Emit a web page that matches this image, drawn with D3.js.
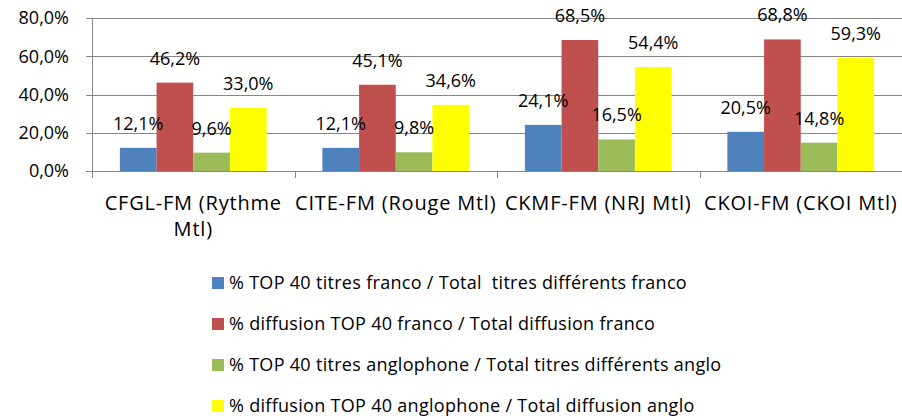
<!DOCTYPE html>
<html>
<head>
<meta charset="utf-8">
<script src="https://cdn.jsdelivr.net/npm/d3@7"></script>
<style>
  body { margin: 0; background: #fff; }
  svg text { font-family: "Open Sans", Lato, sans-serif; fill: #000; }
</style>
</head>
<body>
<svg width="902" height="419"></svg>
<script>
var stations = ["CFGL-FM (Rythme Mtl)", "CITE-FM (Rouge Mtl)", "CKMF-FM (NRJ Mtl)", "CKOI-FM (CKOI Mtl)"];
var seriesNames = [
	"% TOP 40 titres franco / Total  titres différents franco",
	"% diffusion TOP 40 franco / Total diffusion franco",
	"% TOP 40 titres anglophone / Total titres différents anglo",
	"% diffusion TOP 40 anglophone / Total diffusion anglo"
];
var titresFranco = [12.1, 12.1, 24.1, 20.5];
var diffusionFranco = [46.2, 45.1, 68.5, 68.8];
var titresAnglo = [9.6, 9.8, 16.5, 14.8];
var diffusionAnglo = [33.0, 34.6, 54.4, 59.3];
var yTicks = [0, 20, 40, 60, 80];
var colors = ["#4F81BD", "#C0504D", "#9BBB59", "#FFFF00"];

var allSeries = [titresFranco, diffusionFranco, titresAnglo, diffusionAnglo];
var fmt = function(v){ return v.toFixed(1).replace(".", ",") + "%"; };

var svg = d3.select("svg");
var plotLeft = 92, plotRight = 902, plotTop = 18, plotBottom = 171;

var x = d3.scaleBand()
	.domain(stations)
	.range([plotLeft, plotRight]);

var x1 = d3.scaleBand()
	.domain(d3.range(seriesNames.length))
	.range([0, x.bandwidth()])
	.paddingOuter(0.76);

var y = d3.scaleLinear()
	.domain([0, 80])
	.range([plotBottom, plotTop]);

// gridlines
svg.append("g")
	.selectAll("line")
	.data(yTicks)
	.join("line")
	.attr("x1", plotLeft - 6)
	.attr("x2", plotRight)
	.attr("y1", function(d){ return Math.round(y(d)) + 0.5; })
	.attr("y2", function(d){ return Math.round(y(d)) + 0.5; })
	.attr("stroke", "#868686")
	.attr("stroke-width", 1);

// y labels
svg.append("g")
	.selectAll("text")
	.data(yTicks)
	.join("text")
	.attr("x", 69)
	.attr("y", function(d){ return y(d); })
	.attr("dy", "0.36em")
	.attr("text-anchor", "end")
	.style("font-size", "18px")
	.text(function(d){ return fmt(d); });

// bars
var groups = svg.append("g")
	.selectAll("g")
	.data(stations)
	.join("g")
	.attr("transform", function(d){ return "translate(" + x(d) + ",0)"; });

groups.selectAll("rect")
	.data(function(d, i){ return allSeries.map(function(s, k){ return {k: k, v: s[i]}; }); })
	.join("rect")
	.attr("x", function(d){ return x1(d.k); })
	.attr("width", x1.bandwidth())
	.attr("y", function(d){ return y(d.v); })
	.attr("height", function(d){ return plotBottom - y(d.v); })
	.attr("fill", function(d){ return colors[d.k]; });

groups.selectAll("text")
	.data(function(d, i){ return allSeries.map(function(s, k){ return {k: k, v: s[i]}; }); })
	.join("text")
	.attr("x", function(d){ return x1(d.k) + x1.bandwidth() / 2; })
	.attr("y", function(d){ return y(d.v) - 18; })
	.attr("text-anchor", "middle")
	.style("font-size", "18px")
	.text(function(d){ return fmt(d.v); });

// axis lines
svg.append("line")
	.attr("x1", plotLeft + 0.5).attr("x2", plotLeft + 0.5)
	.attr("y1", plotTop).attr("y2", plotBottom + 0.5)
	.attr("stroke", "#868686");

svg.append("g")
	.selectAll("line")
	.data(d3.range(stations.length + 1))
	.join("line")
	.attr("x1", function(i){ return Math.round(plotLeft + i * x.bandwidth()) + 0.5; })
	.attr("x2", function(i){ return Math.round(plotLeft + i * x.bandwidth()) + 0.5; })
	.attr("y1", plotBottom)
	.attr("y2", plotBottom + 7)
	.attr("stroke", "#868686");

// category labels with wrapping
svg.append("g")
	.selectAll("text")
	.data(stations)
	.join("text")
	.attr("x", function(d){ return x(d) + x.bandwidth() / 2; })
	.attr("y", 210)
	.attr("text-anchor", "middle")
	.style("font-size", "20px")
	.style("letter-spacing", "0.8px")
	.each(function(d){
		var el = d3.select(this);
		var words = d.split(" ");
		var lines = [];
		var line = [];
		var tmp = el.append("tspan");
		for (var w of words){
			line.push(w);
			tmp.text(line.join(" "));
			if (tmp.node().getComputedTextLength() > x.bandwidth() && line.length > 1){
				line.pop();
				lines.push(line.join(" "));
				line = [w];
			}
		}
		lines.push(line.join(" "));
		tmp.remove();
		lines.forEach(function(l, i){
			el.append("tspan")
				.attr("x", x(d) + x.bandwidth() / 2)
				.attr("dy", i === 0 ? 0 : 26)
				.text(l);
		});
	});

// legend
var legend = svg.append("g")
	.selectAll("g")
	.data(seriesNames)
	.join("g")
	.attr("transform", function(d, i){ return "translate(212," + (283 + i * 41) + ")"; });

legend.append("rect")
	.attr("x", 0)
	.attr("y", -6)
	.attr("width", 12)
	.attr("height", 12)
	.attr("fill", function(d, i){ return colors[i]; });

legend.append("text")
	.attr("x", 17)
	.attr("y", 0)
	.attr("dy", "0.35em")
	.style("font-size", "18px")
	.style("letter-spacing", "0.3px")
	.style("white-space", "pre")
	.text(function(d){ return d; });
</script>
</body>
</html>
